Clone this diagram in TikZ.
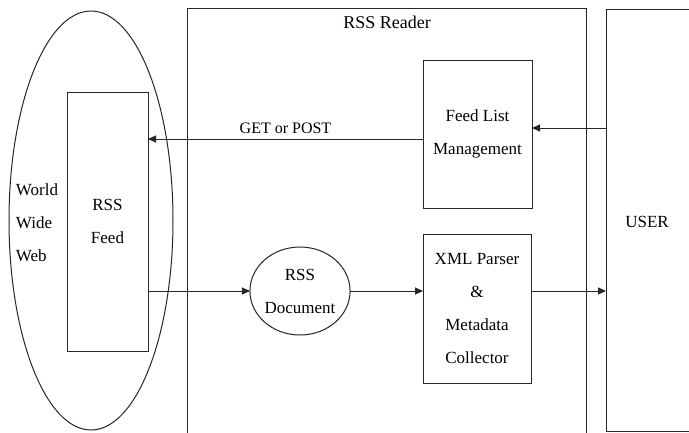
\documentclass[tikz,border=0pt]{standalone}
\usepackage{fontspec}
\setmainfont{Liberation Serif}
\usetikzlibrary{arrows.meta,shapes.geometric}
\begin{document}
\begin{tikzpicture}[x=1pt,y=-1pt,
  every node/.style={inner sep=0pt,outer sep=0pt},
  ln/.style={line width=1pt,draw=black!85},
  box/.style={ln,rectangle,align=center,font=\fontsize{17}{33}\selectfont},
  txt/.style={font=\fontsize{17}{33}\selectfont,align=center},
  arr/.style={ln,-{Triangle[length=8pt,width=7pt]}}]
\useasboundingbox (0,0) rectangle (689,432);
\fill[white] (0,0) rectangle (689,432);
% World Wide Web ellipse
\node[ln,ellipse,minimum width=164pt,minimum height=419pt] (www) at (91,220.5) {};
\node[txt,align=left,anchor=west] (wwwt) at (16,222.5) {World\\Wide\\Web};
% RSS Feed
\node[box,minimum width=81pt,minimum height=259pt] (feed) at (107.5,221.5) {RSS\\Feed};
% RSS Reader
\node[ln,rectangle,minimum width=399pt,minimum height=425pt] (reader) at (386.5,220.5) {};
\node[font=\fontsize{18}{20}\selectfont] (readert) at (387,22) {RSS Reader};
% Feed List Management
\node[box,minimum width=109pt,minimum height=148pt] (flm) at (477.5,134) {Feed List\\Management};
% XML Parser
\node[box,minimum width=108pt,minimum height=149pt] (xml) at (477,308.5) {XML Parser\\\&\\Metadata\\Collector};
% RSS Document
\node[ln,ellipse,minimum width=96pt,minimum height=88pt,txt] (doc) at (300,291) {RSS\\Document};
% USER
\node[ln,rectangle,minimum width=94pt,minimum height=422pt] (user) at (653,220) {};
\node[txt] (usert) at (647,222) {USER};
% connectors
\draw[arr] (user.west |- 0,128) -- (flm.east |- 0,128);
\draw[arr] (flm.west |- 0,139) -- node[above=5pt,txt,font=\fontsize{16}{17}\selectfont] (getpost) {GET or POST} (feed.east |- 0,139);
\draw[arr] (feed.east |- doc.west) -- (doc.west);
\draw[arr] (doc.east) -- (xml.west |- doc.east);
\draw[arr] (xml.east |- doc.east) -- (user.west |- doc.east);
\end{tikzpicture}
\end{document}
